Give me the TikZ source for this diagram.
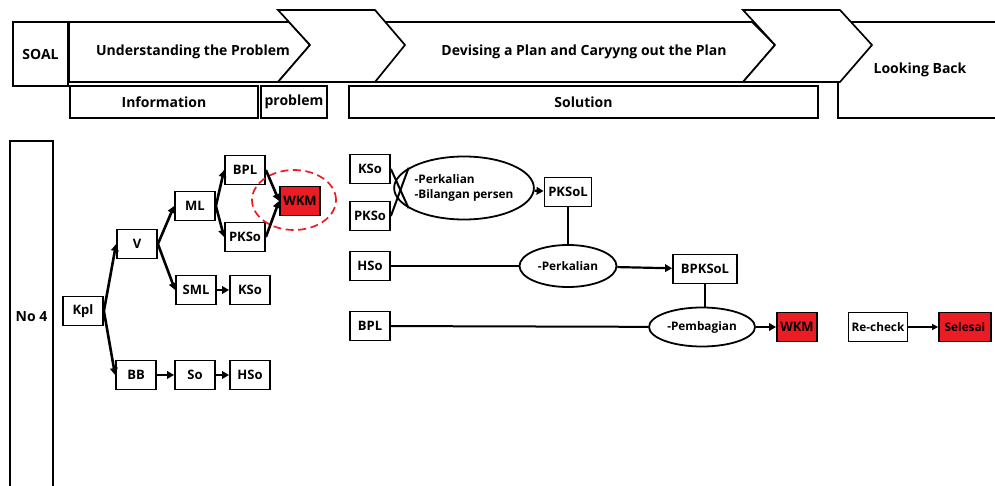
\documentclass[tikz,border=0pt]{standalone}
\usepackage{fontspec}
\setmainfont{Open Sans}
\usetikzlibrary{arrows.meta}
\usetikzlibrary{shapes.geometric}
\definecolor{wkmred}{RGB}{236,28,36}

\tikzset{
    hd/.style={draw, line width=1.7pt, fill=white},
    headtxt/.style={font=\fontsize{14}{16}\selectfont\bfseries},
    headbox/.style={draw, line width=1.7pt, headtxt},
    box/.style={draw, line width=1.8pt, minimum width=40, minimum height=29, inner sep=1.5pt, font=\fontsize{13}{14}\selectfont\bfseries},
    redbox/.style={box, fill=wkmred},
    oval/.style={draw, ellipse, line width=1.8pt, inner sep=0pt, align=left, font=\fontsize{11.8}{15}\selectfont\bfseries},
    arr/.style={line width=2.6pt, -{Triangle[length=7pt,width=7.5pt]}},
    conn/.style={line width=2pt},
}

\begin{document}
\begin{tikzpicture}[x=1pt, y=-1pt]
    \useasboundingbox (0,0) rectangle (995,486);

    % kepala tabel
    \node[headbox, minimum width=55, minimum height=64] (soal) at (40.5,54) {SOAL};
    \draw[hd] (69,22) -- (289,22) -- (310,45) -- (278,82) -- (69,82) -- cycle;
    \draw[hd] (375,22) -- (752,22) -- (775,45) -- (743,82) -- (375,82) -- cycle;
    \draw[hd] (838,22) rectangle (1000,118);
    \draw[hd] (278,10) -- (375,10) -- (405,45) -- (375,82) -- (278,82) -- (310,45) -- cycle;
    \draw[hd] (743,10) -- (840,10) -- (872,45) -- (840,82) -- (743,82) -- (775,45) -- cycle;
    \node[headtxt] (understand) at (193,52) {Understanding the Problem};
    \node[headtxt] (devise) at (584,52) {Devising a Plan and Caryyng out the Plan};
    \node[headtxt] (lookback) at (920,70) {Looking Back};

    % sub kolom
    \node[headbox, minimum width=188, minimum height=32] (info) at (164,102) {Information};
    \node[headbox, minimum width=64, minimum height=32] (problem) at (294,102) {problem};
    \node[headbox, minimum width=469, minimum height=32] (solution) at (583.5,102) {Solution};

    % no 4
    \draw[line width=1.7pt] (10,141) rectangle (53,500);
    \node[headtxt] (no) at (31.5,317) {No 4};

    % pohon informasi
    \node[box] (kpl) at (83,311) {Kpl};
    \node[box] (v) at (137,244) {V};
    \node[box] (bb) at (136,375) {BB};
    \node[box] (ml) at (195,206) {ML};
    \node[box] (sml) at (196,290) {SML};
    \node[box] (kso) at (250,290) {KSo};
    \node[box] (so) at (195,375) {So};
    \node[box] (hso) at (250,375) {HSo};
    \node[box] (bpl) at (245,170) {BPL};
    \node[box] (pkso) at (245,237) {PKSo};
    \node[redbox] (wkm) at (300,201) {WKM};
    \node[draw=wkmred, ellipse, line width=1.7pt, dash pattern=on 8pt off 4.5pt,
          minimum width=84, minimum height=60] (focus) at (294,200) {};

    \draw[arr] (kpl.east) -- (v.west);
    \draw[arr] (kpl.east) -- (bb.west);
    \draw[arr] (v.east) -- (ml.west);
    \draw[arr] (v.east) -- (sml.west);
    \draw[arr] (ml.east) -- (bpl.west);
    \draw[arr] (ml.east) -- (pkso.west);
    \draw[arr] (bpl.east) -- (wkm.west);
    \draw[arr] (pkso.east) -- (wkm.west);
    \draw[arr] (sml) -- (kso);
    \draw[arr] (bb) -- (so);
    \draw[arr] (so) -- (hso);

    % solusi
    \node[box] (skso) at (370,169) {KSo};
    \node[box] (spkso) at (370,216) {PKSo};
    \node[box] (shso) at (370,266) {HSo};
    \node[box] (sbpl) at (370,326) {BPL};
    \node[oval, minimum width=129, minimum height=63] (kali1) at (464,188) {-Perkalian\\-Bilangan persen};
    \node[box, minimum width=47] (pksol) at (568,192) {PKSoL};
    \node[oval, minimum width=97, minimum height=42] (kali2) at (568,266) {-Perkalian};
    \node[box, minimum width=64] (bpksol) at (705,269) {BPKSoL};
    \node[oval, minimum width=106, minimum height=39] (bagi) at (702,327) {-Pembagian};
    \node[redbox] (swkm) at (797,327) {WKM};

    \draw[conn] (skso.east) -- (kali1.200);
    \draw[conn] (spkso.east) -- (kali1.160);
    \draw[arr, line width=2.2pt] (kali1) -- (pksol);
    \draw[conn] (pksol.south) -- (pksol.south |- kali2.north);
    \draw[conn] (shso) -- (kali2);
    \draw[arr, line width=2.2pt] (kali2) -- (bpksol);
    \draw[conn] (bagi.north -| bpksol.south) -- (bpksol.south);
    \draw[conn] (sbpl) -- (bagi);
    \draw[arr, line width=2.2pt] (bagi) -- (swkm);

    % looking back
    \node[box, minimum width=59, font=\fontsize{11.8}{13}\selectfont\bfseries] (recheck) at (878,327) {Re-check};
    \node[redbox, minimum width=52, font=\fontsize{11.8}{13}\selectfont\bfseries] (selesai) at (965,327) {Selesai};
    \draw[line width=1.4pt, -{Triangle[length=6pt,width=6pt]}] (recheck) -- (selesai);
\end{tikzpicture}
\end{document}
